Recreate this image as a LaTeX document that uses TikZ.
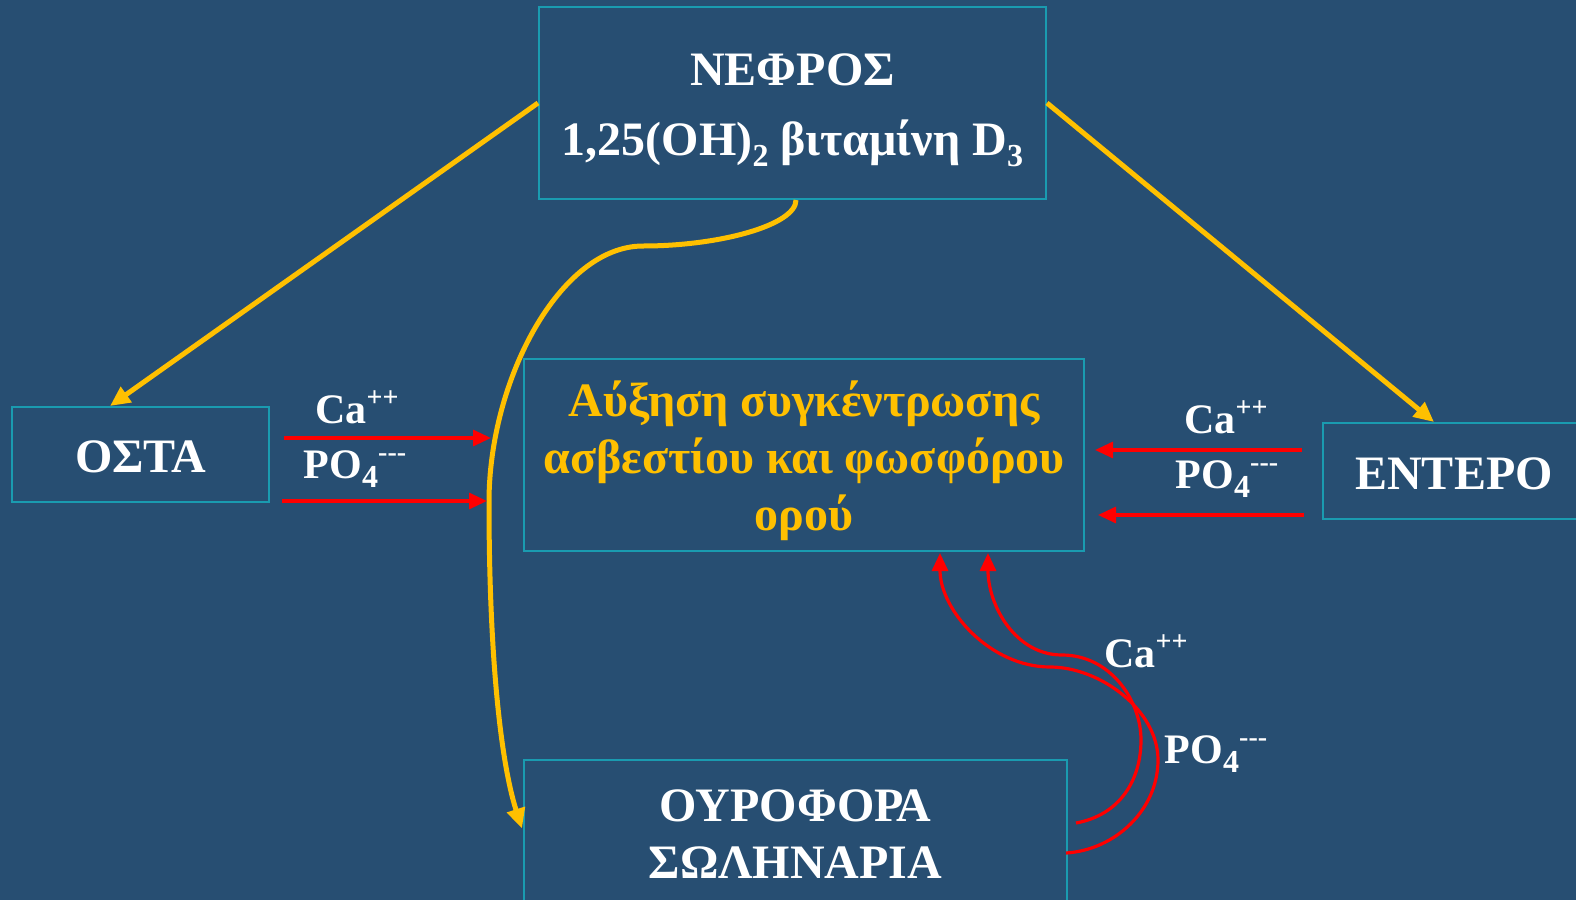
\documentclass[tikz,border=0pt]{standalone}
\usepackage{fontspec}
\setmainfont{Liberation Serif}
\usetikzlibrary{arrows.meta}
\definecolor{bgblue}{RGB}{39,78,114}
\definecolor{frameteal}{RGB}{26,155,176}
\definecolor{gold}{RGB}{255,192,0}
\definecolor{redline}{RGB}{255,0,0}
\newcommand{\lsub}[2][16]{\raisebox{-0.22em}{\fontsize{#1}{#1}\selectfont #2}}
\newcommand{\lsup}[2][14]{\raisebox{0.4em}{\fontsize{#1}{#1}\selectfont #2}}
\begin{document}
\begin{tikzpicture}[x=0.5pt,y=-0.5pt,
  box/.style={draw=frameteal, line width=1pt, inner sep=0pt},
  txt/.style={align=center, text=white, inner sep=0pt,
    font=\fontsize{24}{28.5}\selectfont\bfseries},
  lbl/.style={text=white, inner sep=0pt, font=\fontsize{21}{24}\selectfont\bfseries},
  yarrow/.style={draw=gold, line width=2.5pt, -{Triangle[length=10pt,width=9pt]}},
  rarrow/.style={draw=redline, line width=1.6pt, -{Triangle[length=9pt,width=8pt]}}
]
\fill[bgblue] (0,0) rectangle (1576,900);
\clip (0,0) rectangle (1576,900);

\node[box, minimum width=253.5pt, minimum height=96pt] (nef) at (792.5,103) {};
\node[box, minimum width=128.5pt, minimum height=47.5pt] (osta) at (140.5,454.5) {};
\node[box, minimum width=280pt, minimum height=96pt] (cen) at (804,455) {};
\node[box, minimum width=131pt, minimum height=48pt] (ent) at (1454,471) {};
\node[box, minimum width=271.5pt, minimum height=73pt] (our) at (795.5,832.5) {};

\node[txt, font=\fontsize{24}{35}\selectfont\bfseries] (neft) at ([yshift=-3.5pt]nef.center)
  {ΝΕΦΡΟΣ\\1,25(OH)\lsub{2} βιταμίνη D\lsub{3}};
\node[txt] (ostat) at ([yshift=-1pt]osta.center) {ΟΣΤΑ};
\node[txt, text=gold] (cent) at ([yshift=-3pt]cen.center)
  {Αύξηση συγκέντρωσης\\ασβεστίου και φωσφόρου\\ορού};
\node[txt] (entt) at ([yshift=-1.5pt]ent.center) {ΕΝΤΕΡΟ};
\node[txt] (ourt) at ([yshift=-1pt]our.center) {ΟΥΡΟΦΟΡΑ\\ΣΩΛΗΝΑΡΙΑ};

% labels
\node[lbl] (ca1) at (357,407) {Ca\lsup{++}};
\node[lbl] (po1) at (355,469) {PO\lsub{4}\lsup{-{}-{}-}};
\node[lbl] (ca2) at (1226,417) {Ca\lsup{++}};
\node[lbl] (po2) at (1227,479) {PO\lsub{4}\lsup{-{}-{}-}};
\node[lbl] (ca3) at (1146,651) {Ca\lsup{++}};
\node[lbl] (po3) at (1216,754) {PO\lsub{4}\lsup{-{}-{}-}};

% yellow connectors
\draw[yarrow] (nef.west) -- ([xshift=-15.25pt]osta.north);
\draw[yarrow] (nef.east) -- ([xshift=-10pt]ent.north);
\coordinate (ybend) at (643,246);
\coordinate (ymid) at (489,502);
\draw[yarrow] ([xshift=1.75pt]nef.south) .. controls (796,225) and (720,246) .. (ybend)
  .. controls (560,246) and (489,380) .. (ymid)
  .. controls (489,650) and (500,760) .. ([yshift=2pt]our.west -| 522,0) ;

% red straight arrows
\coordinate (l1s) at (284,438); \coordinate (l1e) at (491,438);
\coordinate (l2s) at (282,501); \coordinate (l2e) at (487,501);
\coordinate (r1s) at (1302,450); \coordinate (r1e) at (1095,450);
\coordinate (r2s) at (1304,515); \coordinate (r2e) at (1098,515);
\draw[rarrow] (l1s) -- (l1e);
\draw[rarrow] (l2s) -- (l2e);
\draw[rarrow] (r1s) -- (r1e);
\draw[rarrow] (r2s) -- (r2e);

% red curved arrows from tubules
\coordinate (a0) at (1076,823);
\coordinate (b0) at (1066,853);
\coordinate (aend) at (988,553);
\coordinate (bend) at (940,553);
\draw[rarrow] (a0) .. controls (1120,815) and (1141,780) .. (1141,740)
  .. controls (1141,700) and (1110,655) .. (1062,655)
  .. controls (1015,655) and (988,605) .. (aend);
\draw[rarrow] (b0) .. controls (1115,850) and (1158,810) .. (1158,760)
  .. controls (1158,710) and (1100,667) .. (1050,667)
  .. controls (990,667) and (940,610) .. (bend);
\end{tikzpicture}
\end{document}
